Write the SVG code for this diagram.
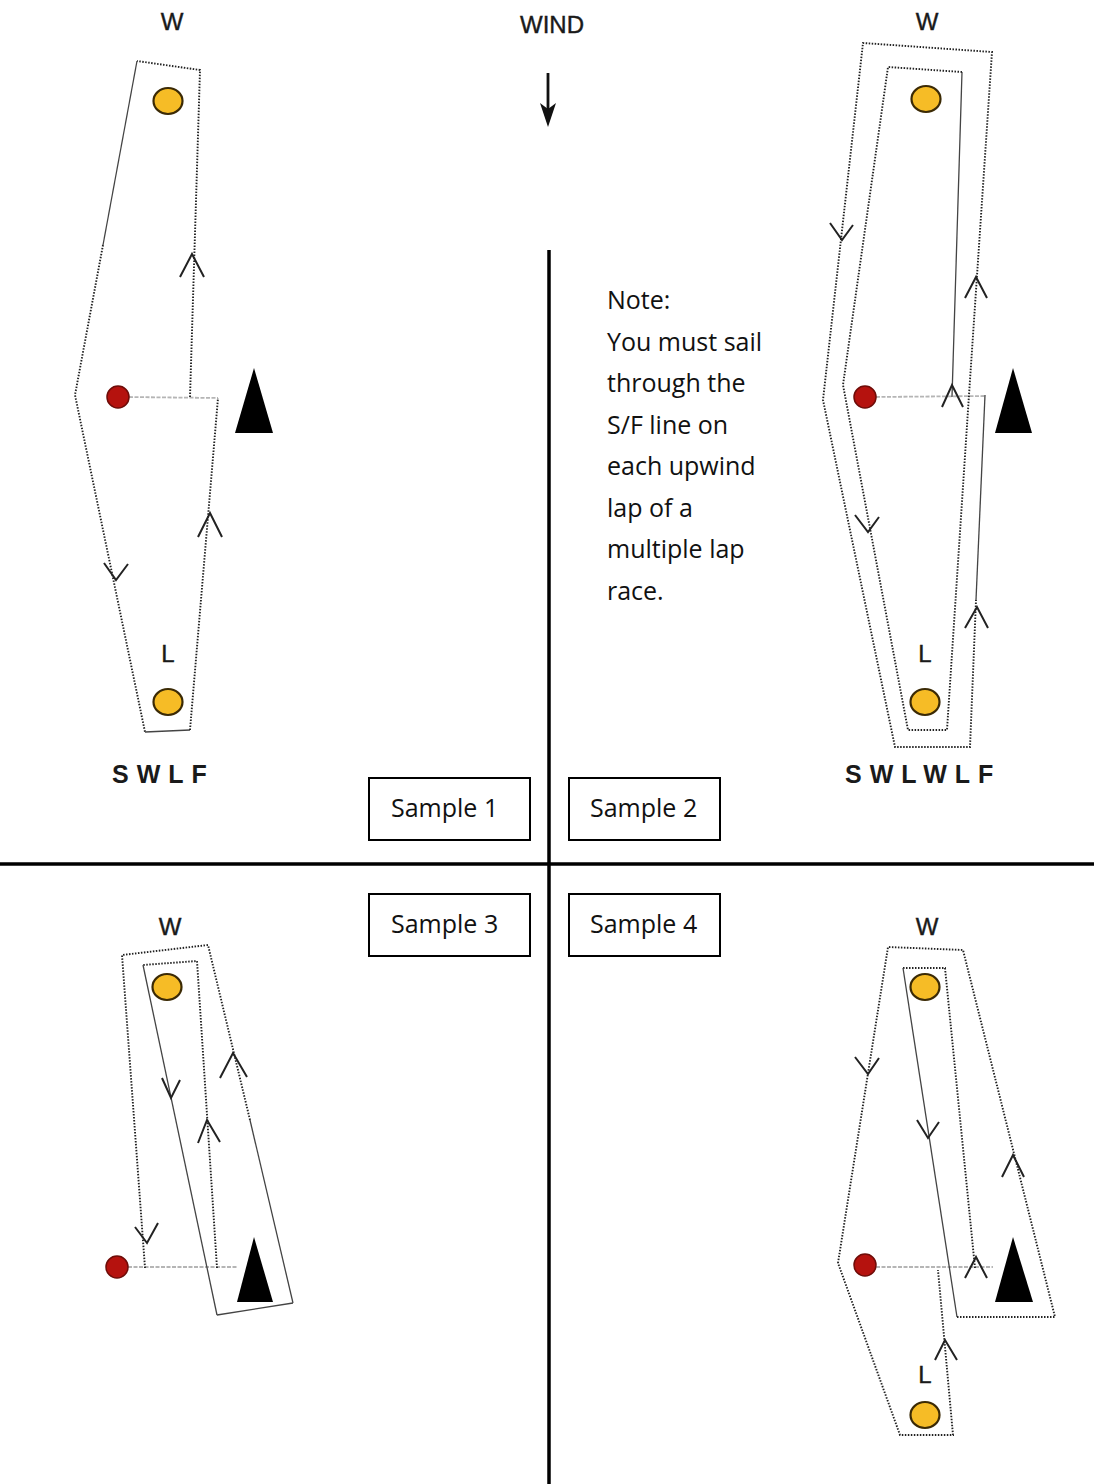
<svg xmlns="http://www.w3.org/2000/svg" width="1094" height="1484" viewBox="0 0 1094 1484">
<style>
.bg{fill:#fff}
.lbl{font-family:"Liberation Sans",Arial,sans-serif;font-size:24px;fill:#1a1a1a;stroke:#1a1a1a;stroke-width:0.4;text-anchor:middle}
.seq{font-family:"Liberation Sans",Arial,sans-serif;font-size:25px;font-weight:bold;fill:#1a1a1a;letter-spacing:8px}
.note{font-family:"Open Sans","Noto Sans",sans-serif;font-size:25px;fill:#111}
.dot{fill:none;stroke:#222;stroke-width:1.9;stroke-dasharray:1.5 1.5;stroke-linejoin:miter}
.sol{fill:none;stroke:#444;stroke-width:1.3}
.sf{fill:none;stroke:#b5b5b5;stroke-width:1.8;stroke-dasharray:4 1.5}
.chev{fill:none;stroke:#222;stroke-width:2;stroke-linejoin:miter}
.ymark{fill:#F6BC26;stroke:#3b2a05;stroke-width:2.2}
.rmark{fill:#B5120E;stroke:#6e0c08;stroke-width:1.5}
.tri{fill:#000}
.axis{stroke:#000;stroke-width:3.5}
.box{fill:#fff;stroke:#000;stroke-width:2}
</style>
<rect class="bg" x="0" y="0" width="1094" height="1484"/>

<!-- axes -->
<g id="axes">
<line class="axis" x1="549" y1="250" x2="549" y2="1484"/>
<line class="axis" x1="0" y1="864" x2="1094" y2="864"/>
</g>

<!-- wind -->
<g id="wind">
<text class="lbl" x="552" y="33">WIND</text>
<line x1="548" y1="73" x2="548" y2="112" stroke="#111" stroke-width="2.8"/>
<path d="M548,127 L540,103 L548,109 L556,103 Z" fill="#111"/>
</g>

<!-- note -->
<g id="note">
<text class="note" x="607" y="309">Note:</text>
<text class="note" x="607" y="350.5">You must sail</text>
<text class="note" x="607" y="392">through the</text>
<text class="note" x="607" y="433.5">S/F line on</text>
<text class="note" x="607" y="475">each upwind</text>
<text class="note" x="607" y="516.5">lap of a</text>
<text class="note" x="607" y="558">multiple lap</text>
<text class="note" x="607" y="599.5">race.</text>
</g>

<!-- connectors: course lines -->
<g id="connectors">
<!-- sample 1 -->
<line class="sf" x1="129" y1="397" x2="218" y2="398"/>
<path class="dot" d="M190,397 L200,70 L137,61"/>
<path class="sol" d="M137,61 L103,245"/>
<path class="dot" d="M103,245 L75,395 L145,732"/>
<path class="sol" d="M145,732 L190,730"/>
<path class="dot" d="M190,730 L218,398"/>
<path class="chev" d="M180,277 L192,254 L204,277"/>
<path class="chev" d="M104,563 L116,580 L128,564"/>
<path class="chev" d="M198,537 L210,513 L222,537"/>

<!-- sample 2 -->
<line class="sf" x1="876" y1="397" x2="985" y2="396"/>
<path class="sol" d="M952,397 L962,72"/>
<path class="dot" d="M962,72 L888,67 L843,385 L908,730 L947,730 L969,395 L992,52 L863,43 L823,400 L895,747 L970,747 L976,600"/>
<path class="sol" d="M976,600 L985,395"/>
<path class="chev" d="M830,223 L842,240 L853,225"/>
<path class="chev" d="M965,298 L976,277 L987,298"/>
<path class="chev" d="M942,407 L952,385 L963,407"/>
<path class="chev" d="M855,515 L868,532 L879,517"/>
<path class="chev" d="M965,628 L977,607 L988,628"/>

<!-- sample 3 -->
<line class="sf" x1="128" y1="1267" x2="238" y2="1267"/>
<path class="dot" d="M217,1268 L197,961 L143,965"/>
<path class="sol" d="M143,965 L217,1315"/>
<path class="sol" d="M217,1315 L293,1303"/>
<path class="sol" d="M293,1303 L250,1120"/>
<path class="dot" d="M250,1120 L208,945 L122,955 L145,1268"/>
<path class="chev" d="M135,1227 L147,1243 L158,1223"/>
<path class="chev" d="M162,1078 L171,1098 L180,1080"/>
<path class="chev" d="M198,1143 L207,1120 L220,1142"/>
<path class="chev" d="M220,1078 L233,1053 L247,1077"/>

<!-- sample 4 -->
<line class="sf" x1="876" y1="1267" x2="993" y2="1267"/>
<path class="dot" d="M975,1268 L945,968 L903,968"/>
<path class="sol" d="M903,968 L957,1317"/>
<path class="dot" d="M957,1317 L1055,1317 L963,950 L888,947 L838,1263 L900,1435 L953,1435 L938,1270"/>
<path class="chev" d="M855,1057 L868,1074 L879,1058"/>
<path class="chev" d="M917,1120 L928,1138 L939,1122"/>
<path class="chev" d="M1002,1177 L1013,1155 L1024,1177"/>
<path class="chev" d="M965,1278 L976,1257 L987,1278"/>
<path class="chev" d="M935,1360 L945,1340 L957,1360"/>
</g>

<!-- sample 1 nodes -->
<g id="s1-windward"><text class="lbl" x="172" y="30">W</text><ellipse class="ymark" cx="168" cy="101" rx="14.5" ry="13"/></g>
<g id="s1-pin"><circle class="rmark" cx="118" cy="397" r="11"/></g>
<g id="s1-boat"><path class="tri" d="M254,368 L273,433 L235,433 Z"/></g>
<g id="s1-leeward"><text class="lbl" x="168" y="662">L</text><ellipse class="ymark" cx="168" cy="702" rx="14.5" ry="13"/></g>
<g id="s1-seq"><text class="seq" x="112" y="783">SWLF</text></g>

<!-- sample 2 nodes -->
<g id="s2-windward"><text class="lbl" x="927" y="30">W</text><ellipse class="ymark" cx="926" cy="99" rx="14.5" ry="13"/></g>
<g id="s2-pin"><circle class="rmark" cx="865" cy="397" r="11"/></g>
<g id="s2-boat"><path class="tri" d="M1013,368 L1032,433 L995,433 Z"/></g>
<g id="s2-leeward"><text class="lbl" x="925" y="662">L</text><ellipse class="ymark" cx="925" cy="702" rx="14.5" ry="13"/></g>
<g id="s2-seq"><text class="seq" x="845" y="783">SWLWLF</text></g>

<!-- sample 3 nodes -->
<g id="s3-windward"><text class="lbl" x="170" y="935">W</text><ellipse class="ymark" cx="167" cy="987" rx="14.5" ry="13"/></g>
<g id="s3-pin"><circle class="rmark" cx="117" cy="1267" r="11"/></g>
<g id="s3-boat"><path class="tri" d="M254,1237 L273,1302 L237,1302 Z"/></g>

<!-- sample 4 nodes -->
<g id="s4-windward"><text class="lbl" x="927" y="935">W</text><ellipse class="ymark" cx="925" cy="987" rx="14.5" ry="13"/></g>
<g id="s4-pin"><circle class="rmark" cx="865" cy="1265" r="11"/></g>
<g id="s4-boat"><path class="tri" d="M1013,1237 L1033,1302 L995,1302 Z"/></g>
<g id="s4-leeward"><text class="lbl" x="925" y="1383">L</text><ellipse class="ymark" cx="925" cy="1415" rx="14.5" ry="13"/></g>

<!-- sample labels -->
<g id="sample1"><rect class="box" x="369" y="778" width="161" height="62"/><text class="note" x="391" y="817">Sample 1</text></g>
<g id="sample2"><rect class="box" x="569" y="778" width="151" height="62"/><text class="note" x="590" y="817">Sample 2</text></g>
<g id="sample3"><rect class="box" x="369" y="894" width="161" height="62"/><text class="note" x="391" y="933">Sample 3</text></g>
<g id="sample4"><rect class="box" x="569" y="894" width="151" height="62"/><text class="note" x="590" y="933">Sample 4</text></g>
</svg>
